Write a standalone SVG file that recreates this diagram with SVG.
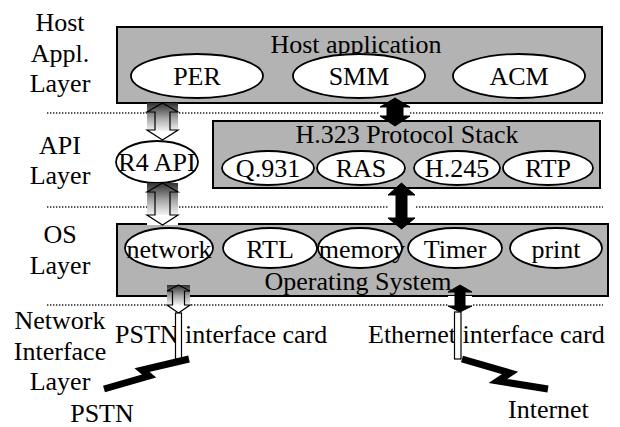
<svg xmlns="http://www.w3.org/2000/svg" width="620" height="427" viewBox="0 0 620 427">
  <style>
    text { font-family: "Liberation Serif", "Times New Roman", serif; font-size: 26px; fill: #000; }
    .mid { text-anchor: middle; }
    .box { fill: #b3b3b3; stroke: #000; stroke-width: 2; }
    .oval { fill: #fff; stroke: #000; stroke-width: 1.8; }
    .sep { stroke: #222; stroke-width: 1.3; stroke-dasharray: 1.4 1.6; fill: none; }
    .hollow { fill: none; stroke: #000; stroke-width: 1.2; }
    .solid { fill: #000; stroke: #000; stroke-width: 1; }
    .card { fill: #fff; stroke: #000; stroke-width: 1.2; }
    .zig { fill: none; stroke: #000; stroke-width: 7; stroke-linejoin: miter; }
    .blank { fill: #fff; }
  </style>
  <defs>
    <linearGradient id="shade" x1="0" y1="0" x2="0" y2="1">
      <stop offset="0" stop-color="#303030"/>
      <stop offset="0.55" stop-color="#a8a8a8"/>
      <stop offset="1" stop-color="#f4f4f4"/>
    </linearGradient>
  </defs>

  <!-- layer names on the left -->
  <g id="layer-labels">
    <text class="mid" x="60" y="31">Host</text>
    <text class="mid" x="60" y="62">Appl.</text>
    <text class="mid" x="60" y="92">Layer</text>
    <text class="mid" x="60" y="154">API</text>
    <text class="mid" x="60" y="184">Layer</text>
    <text class="mid" x="60" y="243">OS</text>
    <text class="mid" x="60" y="274">Layer</text>
    <text class="mid" x="60" y="329">Network</text>
    <text class="mid" x="60" y="360">Interface</text>
    <text class="mid" x="60" y="390">Layer</text>
  </g>

  <!-- dotted layer separators -->
  <g id="separators">
    <line class="sep" x1="47" y1="113" x2="603" y2="113"/>
    <line class="sep" x1="47" y1="207" x2="603" y2="207"/>
    <line class="sep" x1="47" y1="305" x2="603" y2="305"/>
  </g>

  <g id="host-application">
    <rect class="box" x="117" y="27" width="485" height="76"/>
    <text class="mid" x="356" y="53">Host application</text>
  </g>
  <g id="per">
    <ellipse class="oval" cx="197" cy="76" rx="66" ry="22"/>
    <text class="mid" x="197" y="85">PER</text>
  </g>
  <g id="smm">
    <ellipse class="oval" cx="359" cy="76" rx="66" ry="22"/>
    <text class="mid" x="359" y="85">SMM</text>
  </g>
  <g id="acm">
    <ellipse class="oval" cx="519" cy="76" rx="66" ry="22"/>
    <text class="mid" x="519" y="85">ACM</text>
  </g>

  <g id="r4-api">
    <ellipse class="oval" cx="157" cy="162" rx="41" ry="21"/>
    <text class="mid" x="157" y="171">R4 API</text>
  </g>

  <g id="h323-stack">
    <rect class="box" x="213" y="121" width="387" height="67"/>
    <text class="mid" x="407" y="143">H.323 Protocol Stack</text>
  </g>
  <g id="q931">
    <ellipse class="oval" cx="268" cy="168" rx="46" ry="17"/>
    <text class="mid" x="268" y="177">Q.931</text>
  </g>
  <g id="ras">
    <ellipse class="oval" cx="361" cy="168" rx="44" ry="17"/>
    <text class="mid" x="361" y="177">RAS</text>
  </g>
  <g id="h245">
    <ellipse class="oval" cx="457" cy="168" rx="43" ry="17"/>
    <text class="mid" x="457" y="177">H.245</text>
  </g>
  <g id="rtp">
    <ellipse class="oval" cx="548" cy="168" rx="45" ry="17"/>
    <text class="mid" x="548" y="177">RTP</text>
  </g>

  <g id="operating-system">
    <rect class="box" x="117" y="224" width="491" height="72"/>
    <text class="mid" x="358" y="290">Operating System</text>
  </g>
  <g id="network">
    <ellipse class="oval" cx="169" cy="248" rx="44" ry="20"/>
    <text class="mid" x="169" y="258">network</text>
  </g>
  <g id="rtl">
    <ellipse class="oval" cx="270" cy="248" rx="47" ry="20"/>
    <text class="mid" x="270" y="258">RTL</text>
  </g>
  <g id="memory">
    <ellipse class="oval" cx="360" cy="248" rx="42" ry="20"/>
    <text class="mid" x="362" y="258">memory</text>
  </g>
  <g id="timer">
    <ellipse class="oval" cx="455" cy="248" rx="47" ry="20"/>
    <text class="mid" x="455" y="258">Timer</text>
  </g>
  <g id="print">
    <ellipse class="oval" cx="556" cy="248" rx="46" ry="20"/>
    <text class="mid" x="556" y="258">print</text>
  </g>

  <g id="pstn-card">
    <text x="115" y="343">PSTN interface card</text>
  </g>
  <g id="ethernet-card">
    <text x="368" y="343">Ethernet interface card</text>
  </g>
  <g id="pstn">
    <text class="mid" x="102" y="422">PSTN</text>
  </g>
  <g id="internet">
    <text x="508" y="418">Internet</text>
  </g>

  <g id="connectors">
    <!-- Host application <-> R4 API (shaded hollow arrow) -->
    <rect class="blank" x="147" y="103" width="31" height="37"/>
    <rect x="147" y="103" width="31" height="28" fill="url(#shade)"/>
    <path class="hollow" d="M162.5,103 L178,112 L170,112 L170,130 L178,130 L162.5,140 L147,130 L155,130 L155,112 L147,112 Z"/>

    <!-- R4 API <-> Operating System (shaded hollow arrow) -->
    <rect class="blank" x="147" y="183" width="31" height="42"/>
    <rect x="147" y="183" width="31" height="32" fill="url(#shade)"/>
    <path class="hollow" d="M162.5,183 L178,192 L170,192 L170,215 L178,215 L162.5,225 L147,215 L155,215 L155,192 L147,192 Z"/>

    <!-- Operating System <-> PSTN interface card (shaded hollow arrow) -->
    <rect class="blank" x="167" y="296" width="23" height="17"/>
    <rect x="167" y="285" width="23" height="20" fill="url(#shade)"/>
    <path class="hollow" d="M178.5,285 L190,291 L184.5,291 L184.5,305 L190,305 L178.5,313 L167,305 L172.5,305 L172.5,291 L167,291 Z"/>
    <rect class="card" x="175.5" y="313" width="6" height="46"/>
    <polyline class="zig" points="189,359 142,370 149,376 104,389"/>

    <!-- SMM <-> H.323 Protocol Stack -->
    <rect class="blank" x="380" y="110" width="30" height="6"/>
    <path class="solid" d="M395,98 L410,107 L403,107 L403,116 L410,116 L395,126 L380,116 L387,116 L387,107 L380,107 Z"/>

    <!-- H.323 Protocol Stack <-> Operating System -->
    <rect class="blank" x="388" y="204" width="27" height="6"/>
    <path class="solid" d="M401.5,183 L415,195 L407,195 L407,218 L415,218 L401.5,229 L388,218 L396,218 L396,195 L388,195 Z"/>

    <!-- Operating System <-> Ethernet interface card -->
    <rect class="blank" x="448" y="296" width="24" height="16"/>
    <path class="solid" d="M460,285 L472,292 L465,292 L465,306 L472,306 L460,312 L448,306 L455,306 L455,292 L448,292 Z"/>
    <rect class="card" x="454.5" y="312" width="6.5" height="47"/>
    <polyline class="zig" points="462,359 510,373 498,381 548,389"/>
  </g>
</svg>
